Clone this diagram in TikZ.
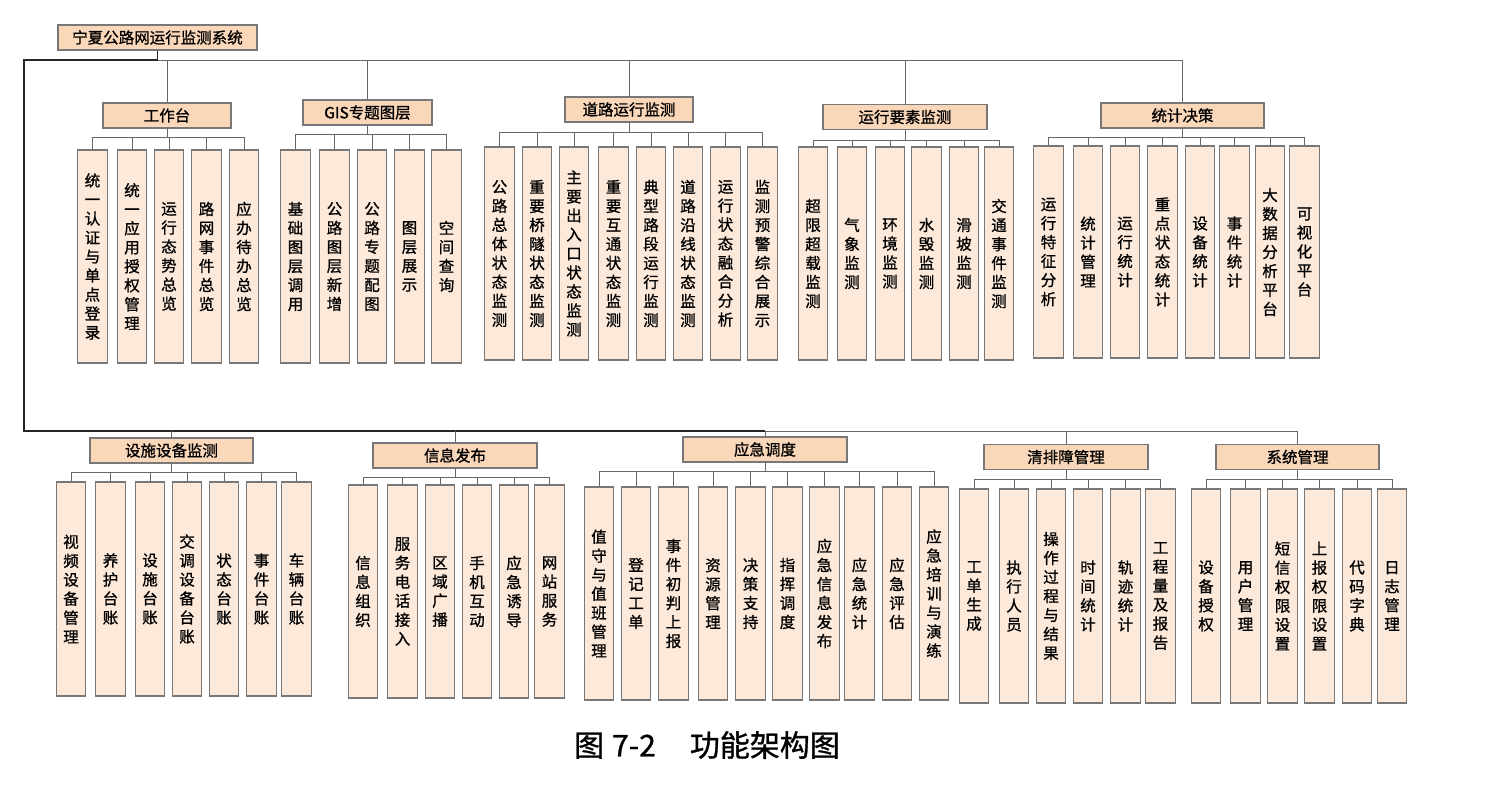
\documentclass[tikz,border=0pt]{standalone}
\usepackage{fontspec}
\setmainfont{Noto Sans CJK SC}
\newfontfamily\heiti{Noto Sans CJK SC}[FakeBold=1]
\XeTeXlinebreaklocale "zh"
\XeTeXlinebreakskip=0pt plus 1pt
\definecolor{grpfill}{RGB}{251,215,186}
\definecolor{leaffill}{RGB}{252,233,218}
\definecolor{boxline}{RGB}{120,120,120}

\begin{document}
\begin{tikzpicture}[x=1pt,y=-1pt,
  grpbox/.style={draw=boxline,fill=grpfill,line width=1.1pt,minimum height=25pt,inner sep=0pt,font=\heiti\fontsize{15.5}{18}\selectfont},
  leafbox/.style={draw=boxline,fill=leaffill,line width=1.1pt,minimum width=29.5pt,inner sep=0pt,text width=17pt,align=center,font=\heiti\fontsize{15.5}{19}\selectfont},
  conn/.style={draw=gray!80!black,line width=0.9pt},
  mainline/.style={draw=black!85,line width=1.3pt}]
\path[fill=white] (0,0) rectangle (1510,802);
% root and the two buses
\node[grpbox,minimum width=199pt] (root) at (157.5,37.5) {宁夏公路网运行监测系统};
\coordinate (tb) at (24,60);
\coordinate (bb) at (24,431);
% top row groups
\node[grpbox,minimum width=128pt] (ws) at (167,115.5) {工作台};
\node[grpbox,minimum width=129pt] (gis) at (367.5,112.5) {GIS专题图层};
\node[grpbox,minimum width=128pt] (road) at (629,109.5) {道路运行监测};
\node[grpbox,minimum width=164pt] (elem) at (905,117) {运行要素监测};
\node[grpbox,minimum width=163pt] (stat) at (1182.5,115.5) {统计决策};
% bottom row groups
\node[grpbox,minimum width=163pt] (fac) at (171.5,450.5) {设施设备监测};
\node[grpbox,minimum width=164pt] (info) at (455,455.5) {信息发布};
\node[grpbox,minimum width=164pt] (emer) at (765,449.5) {应急调度};
\node[grpbox,minimum width=164pt] (clear) at (1066,457) {清排障管理};
\node[grpbox,minimum width=163pt] (sys) at (1297.5,457) {系统管理};
\draw[mainline] (root.south) -- (root.south |- tb) -- (tb) -- (bb) -- (bb -| emer.north);
\draw[conn] (root.south |- tb) -- (tb -| stat.north);
\draw[conn] (bb -| emer.north) -- (bb -| sys.north);
\foreach \g in {ws,gis,road,elem,stat} \draw[conn] (tb -| \g.north) -- (\g.north);
\foreach \g in {fac,info,emer,clear,sys} \draw[conn] (bb -| \g.north) -- (\g.north);
% top row leaves
\foreach \x/\t [count=\i] in {92.5/统一认证与单点登录,132/统一应用授权管理,169/运行态势总览,206.5/路网事件总览,244/应办待办总览}{
  \node[leafbox,minimum height=213pt] (ws\i) at (\x,256.5) {\t};
  \draw[conn] (ws.south) -- ++(0,9) -| (ws\i.north);
}
\foreach \x/\t [count=\i] in {295.5/基础图层调用,334.5/公路图层新增,372/公路专题配图,409.5/图层展示,446.5/空间查询}{
  \node[leafbox,minimum height=213pt] (gis\i) at (\x,256.5) {\t};
  \draw[conn] (gis.south) -- ++(0,9) -| (gis\i.north);
}
\foreach \x/\t [count=\i] in {499.5/公路总体状态监测,537/重要桥隧状态监测,574/主要出入口状态监测,613.5/重要互通状态监测,651/典型路段运行监测,688/道路沿线状态监测,725.5/运行状态融合分析,762.5/监测预警综合展示}{
  \node[leafbox,minimum height=213pt] (road\i) at (\x,253.5) {\t};
  \draw[conn] (road.south) -- ++(0,10) -| (road\i.north);
}
\foreach \x/\t [count=\i] in {813/超限超载监测,852/气象监测,890/环境监测,926.5/水毁监测,964/滑坡监测,999/交通事件监测}{
  \node[leafbox,minimum height=213pt] (elem\i) at (\x,253.5) {\t};
  \draw[conn] (elem.south) -- ++(0,10) -| (elem\i.north);
}
\foreach \x/\t [count=\i] in {1048.5/运行特征分析,1088/统计管理,1125/运行统计,1162.5/重点状态统计,1200/设备统计,1234.5/事件统计,1270/大数据分析平台,1304.5/可视化平台}{
  \node[leafbox,minimum height=212pt] (stat\i) at (\x,252) {\t};
  \draw[conn] (stat.south) -- ++(0,9) -| (stat\i.north);
}
% bottom row leaves
\foreach \x/\t [count=\i] in {71/视频设备管理,110.5/养护台账,150/设施台账,187/交调设备台账,224/状态台账,261.5/事件台账,296.5/车辆台账}{
  \node[leafbox,minimum height=214pt] (fac\i) at (\x,589) {\t};
  \draw[conn] (fac.south) -- ++(0,9) -| (fac\i.north);
}
\foreach \x/\t [count=\i] in {363/信息组织,402.5/服务电话接入,440/区域广播,477/手机互动,514/应急诱导,549.5/网站服务}{
  \node[leafbox,minimum height=213pt] (info\i) at (\x,591.5) {\t};
  \draw[conn] (info.south) -- ++(0,9) -| (info\i.north);
}
\foreach \x/\t [count=\i] in {599/值守与值班管理,636/登记工单,673.5/事件初判上报,713/资源管理,750.5/决策支持,787.5/指挥调度,824.5/应急信息发布,859.5/应急统计,897/应急评估,934/应急培训与演练}{
  \node[leafbox,minimum height=213pt] (emer\i) at (\x,593.5) {\t};
  \draw[conn] (emer.south) -- ++(0,9) -| (emer\i.north);
}
\foreach \x/\t [count=\i] in {974/工单生成,1014/执行人员,1051/操作过程与结果,1088/时间统计,1125.5/轨迹统计,1160.5/工程量及报告}{
  \node[leafbox,minimum height=214pt] (clear\i) at (\x,596) {\t};
  \draw[conn] (clear.south) -- ++(0,9) -| (clear\i.north);
}
\foreach \x/\t [count=\i] in {1206/设备授权,1245.5/用户管理,1282.5/短信权限设置,1319.5/上报权限设置,1357/代码字典,1392/日志管理}{
  \node[leafbox,minimum height=214pt] (sys\i) at (\x,596) {\t};
  \draw[conn] (sys.south) -- ++(0,9) -| (sys\i.north);
}
% caption
\node[font=\heiti\fontsize{30}{36}\selectfont] (cap) at (707,745) {图\hspace{8pt}7-2\hspace{34pt}功能架构图};
\end{tikzpicture}
\end{document}
